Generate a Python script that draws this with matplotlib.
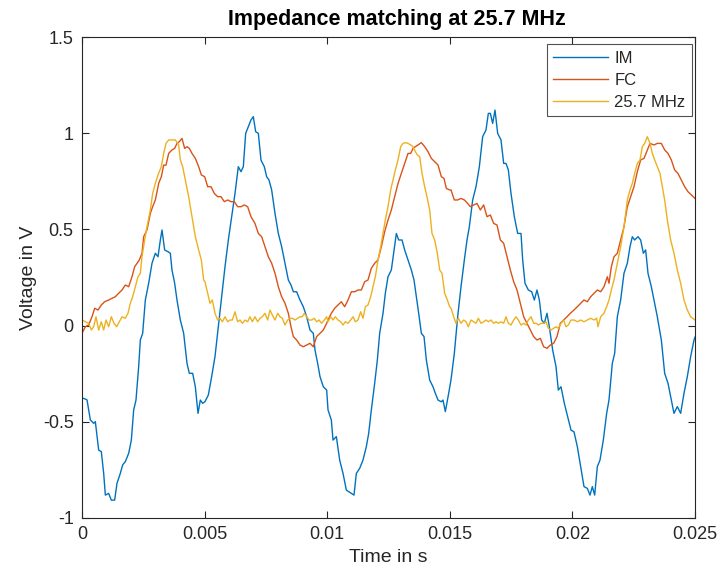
import matplotlib
matplotlib.use("Agg")
import matplotlib.pyplot as plt
import numpy as np

# ---- data, time in ms ----
im_t_ms = [0.000, 0.068, 0.204, 0.340, 0.476, 0.544, 0.680, 0.788, 0.884, 0.952, 1.088, 1.196, 1.332,
           1.427, 1.563, 1.659, 1.767, 1.903, 2.012, 2.107, 2.202, 2.311, 2.379, 2.474, 2.583, 2.719,
           2.855, 2.991, 3.100, 3.195, 3.263, 3.371, 3.507, 3.602, 3.670, 3.779, 3.874, 4.010, 4.146,
           4.282, 4.377, 4.513, 4.622, 4.731, 4.826, 4.921,
           5.016, 5.152, 5.288, 5.424, 5.560, 5.696, 5.832, 5.968, 6.104, 6.240, 6.375, 6.484, 6.579,
           6.675, 6.783, 6.892, 6.987, 7.082, 7.191, 7.300, 7.436, 7.531, 7.626, 7.735, 7.871, 8.007,
           8.143, 8.279, 8.415, 8.523, 8.619, 8.754, 8.890, 9.026, 9.162, 9.298, 9.434, 9.502, 9.611,
           9.706, 9.842, 9.978,
           10.033, 10.169, 10.237, 10.373, 10.509, 10.645, 10.781, 10.876, 10.985, 11.093, 11.189,
           11.324, 11.460, 11.596, 11.692, 11.800, 11.936, 12.045, 12.140, 12.276, 12.371, 12.480,
           12.616, 12.711, 12.820, 12.915, 13.051, 13.160, 13.296, 13.432, 13.540, 13.636, 13.731,
           13.840, 13.948, 14.044, 14.179, 14.315, 14.410, 14.519, 14.655, 14.723, 14.818, 14.954,
           15.049, 15.185, 15.321, 15.457, 15.593, 15.702, 15.797, 15.933, 16.069, 16.205, 16.340,
           16.476, 16.572, 16.653, 16.748, 16.843, 16.952, 17.088, 17.197, 17.292, 17.387, 17.496,
           17.632, 17.768, 17.904, 17.972, 18.067, 18.203, 18.339, 18.448, 18.556, 18.652, 18.747,
           18.855, 18.964, 19.059, 19.195, 19.331, 19.426, 19.535, 19.671, 19.807, 19.943,
           20.065, 20.201, 20.337, 20.473, 20.609, 20.718, 20.813, 20.908, 21.017, 21.125, 21.261,
           21.397, 21.492, 21.628, 21.724, 21.832, 21.968, 22.104, 22.240, 22.349, 22.444, 22.539,
           22.675, 22.784, 22.893, 22.988, 23.083, 23.219, 23.328, 23.463, 23.627, 23.763, 23.899,
           24.035, 24.143, 24.279, 24.415, 24.551, 24.687, 24.823, 24.959, 25.000]
im_v = [-0.380, -0.378, -0.386, -0.490, -0.508, -0.499, -0.647, -0.655, -0.768, -0.881, -0.872, -0.907, -0.907,
        -0.820, -0.768, -0.724, -0.707, -0.664, -0.595, -0.439, -0.387, -0.213, -0.075, -0.040, 0.133, 0.220,
        0.324, 0.376, 0.358, 0.445, 0.497, 0.393, 0.384, 0.376, 0.289, 0.220, 0.133, 0.029, -0.040,
        -0.196, -0.248, -0.248, -0.318, -0.456, -0.387, -0.404,
        -0.395, -0.361, -0.265, -0.161, -0.006, 0.150, 0.306, 0.445, 0.566, 0.687, 0.826, 0.800, 0.826,
        0.999, 1.034, 1.069, 1.086, 1.008, 0.999, 0.860, 0.826, 0.774, 0.757, 0.705, 0.583, 0.479,
        0.410, 0.324, 0.237, 0.211, 0.176, 0.176, 0.133, 0.098, 0.046, -0.023, -0.040, -0.127, -0.196,
        -0.265, -0.318, -0.335,
        -0.438, -0.491, -0.595, -0.577, -0.699, -0.768, -0.855, -0.863, -0.872, -0.881, -0.768,
        -0.742, -0.699, -0.629, -0.560, -0.438, -0.300, -0.179, -0.040, 0.064, 0.168, 0.254,
        0.289, 0.376, 0.479, 0.445, 0.445, 0.393, 0.341, 0.289, 0.237, 0.150, 0.064,
        -0.040, -0.057, -0.179, -0.283, -0.318, -0.352, -0.387, -0.396, -0.387, -0.447, -0.352,
        -0.282, -0.144, 0.046, 0.202, 0.341, 0.445, 0.514, 0.653, 0.722, 0.826, 0.982,
        1.017, 1.103, 1.103, 1.051, 1.120, 0.999, 0.965, 0.843, 0.843, 0.809, 0.687,
        0.566, 0.479, 0.479, 0.341, 0.220, 0.185, 0.176, 0.133, 0.185, 0.133, 0.029,
        0.012, 0.064, -0.006, -0.127, -0.213, -0.335, -0.318, -0.404, -0.474, -0.543,
        -0.552, -0.629, -0.733, -0.837, -0.846, -0.881, -0.837, -0.881, -0.733, -0.699, -0.595,
        -0.456, -0.387, -0.196, -0.144, 0.046, 0.133, 0.272, 0.324, 0.410, 0.462, 0.445,
        0.462, 0.445, 0.376, 0.393, 0.272, 0.202, 0.133, 0.046, -0.075, -0.248, -0.300,
        -0.387, -0.456, -0.421, -0.456, -0.352, -0.265, -0.161, -0.075, -0.060]

fc_t_ms = [0.000, 0.136, 0.272, 0.408, 0.517, 0.653, 0.788, 0.924, 1.088, 1.223, 1.359, 1.495, 1.631,
           1.767, 1.903, 2.039, 2.148, 2.243, 2.338, 2.447, 2.515, 2.651, 2.787, 2.882, 2.991, 3.127,
           3.235, 3.331, 3.426, 3.535, 3.670, 3.779, 3.874, 3.970, 4.078, 4.187, 4.282, 4.377, 4.486,
           4.622, 4.758, 4.867, 5.003,
           5.125, 5.261, 5.397, 5.533, 5.669, 5.804, 5.940, 6.076, 6.212, 6.348, 6.484, 6.620, 6.756,
           6.892, 7.055, 7.191, 7.327, 7.463, 7.599, 7.735, 7.871, 8.007, 8.143, 8.279, 8.415, 8.523,
           8.619, 8.754, 8.890, 9.026, 9.162, 9.298, 9.434, 9.570, 9.706, 9.842, 9.978,
           10.033, 10.169, 10.305, 10.441, 10.577, 10.713, 10.849, 10.985, 11.121, 11.256, 11.392,
           11.528, 11.664, 11.800, 11.936, 12.072, 12.208, 12.344, 12.480, 12.616, 12.752, 12.888,
           13.024, 13.160, 13.296, 13.404, 13.500, 13.595, 13.704, 13.839, 13.975, 14.111, 14.247,
           14.383, 14.519, 14.655, 14.764, 14.859, 14.995,
           15.049, 15.185, 15.321, 15.457, 15.593, 15.729, 15.837, 15.973, 16.109, 16.245, 16.381,
           16.517, 16.653, 16.789, 16.925, 17.061, 17.197, 17.333, 17.469, 17.605, 17.741, 17.877,
           18.013, 18.148, 18.284, 18.420, 18.556, 18.692, 18.828, 18.964, 19.100, 19.236, 19.372,
           19.508, 19.644, 19.780, 19.915,
           20.065, 20.201, 20.337, 20.473, 20.609, 20.745, 20.881, 21.017, 21.153, 21.289, 21.424,
           21.492, 21.588, 21.696, 21.832, 21.968, 22.104, 22.240, 22.376, 22.512, 22.648, 22.784,
           22.920, 23.029, 23.165, 23.328, 23.463, 23.627, 23.763, 23.899, 24.035, 24.170, 24.306,
           24.442, 24.578, 24.714, 24.850, 25.000]
fc_v = [-0.040, -0.006, 0.003, 0.046, 0.090, 0.081, 0.107, 0.124, 0.133, 0.142, 0.150, 0.168, 0.185,
        0.211, 0.202, 0.254, 0.306, 0.324, 0.341, 0.376, 0.462, 0.497, 0.583, 0.618, 0.653, 0.739,
        0.774, 0.834, 0.834, 0.895, 0.913, 0.921, 0.947, 0.956, 0.973, 0.921, 0.930, 0.921, 0.895,
        0.869, 0.826, 0.783, 0.774,
        0.722, 0.722, 0.687, 0.670, 0.670, 0.644, 0.653, 0.644, 0.644, 0.618, 0.618, 0.627, 0.618,
        0.566, 0.531, 0.479, 0.462, 0.410, 0.358, 0.324, 0.272, 0.202, 0.150, 0.116, 0.064, -0.006,
        -0.057, -0.075, -0.101, -0.110, -0.101, -0.092, -0.110, -0.057, -0.040, -0.023, 0.012,
        0.029, 0.064, 0.090, 0.107, 0.124, 0.098, 0.133, 0.176, 0.176, 0.185, 0.185,
        0.228, 0.237, 0.298, 0.324, 0.341, 0.410, 0.488, 0.549, 0.601, 0.670, 0.739,
        0.791, 0.843, 0.895, 0.895, 0.921, 0.930, 0.939, 0.951, 0.930, 0.904, 0.869,
        0.852, 0.835, 0.774, 0.765, 0.713, 0.705,
        0.705, 0.653, 0.653, 0.661, 0.653, 0.635, 0.618, 0.627, 0.635, 0.601, 0.627,
        0.566, 0.575, 0.531, 0.523, 0.445, 0.428, 0.358, 0.289, 0.228, 0.185, 0.116,
        0.046, 0.012, -0.023, -0.057, -0.075, -0.066, -0.110, -0.118, -0.101, -0.092, -0.057,
        0.012, 0.029, 0.046, 0.064,
        0.081, 0.098, 0.116, 0.133, 0.124, 0.150, 0.168, 0.185, 0.176, 0.202, 0.254,
        0.220, 0.306, 0.358, 0.376, 0.445, 0.514, 0.618, 0.670, 0.722, 0.800, 0.861,
        0.869, 0.904, 0.947, 0.939, 0.947, 0.947, 0.913, 0.895, 0.861, 0.809, 0.791,
        0.757, 0.722, 0.696, 0.679, 0.661]

ref_t_ms = [0.000, 0.136, 0.272, 0.381, 0.476, 0.571, 0.680, 0.788, 0.884, 0.979, 1.088, 1.196, 1.305,
            1.414, 1.523, 1.631, 1.767, 1.876, 1.971, 2.066, 2.175, 2.284, 2.379, 2.447, 2.556, 2.651,
            2.787, 2.882, 2.991, 3.100, 3.235, 3.331, 3.426, 3.535, 3.670, 3.806, 3.942, 4.010, 4.105,
            4.214, 4.350, 4.486, 4.622, 4.758, 4.867, 4.962,
            5.016, 5.125, 5.220, 5.315, 5.424, 5.533, 5.628, 5.723, 5.832, 5.940, 6.036, 6.131, 6.240,
            6.348, 6.443, 6.539, 6.647, 6.756, 6.851, 6.946, 7.055, 7.164, 7.259, 7.354, 7.463, 7.572,
            7.667, 7.762, 7.871, 7.980, 8.075, 8.170, 8.279, 8.387, 8.483, 8.578, 8.687, 8.795, 8.890,
            8.986, 9.067, 9.162, 9.257, 9.366, 9.475, 9.570, 9.665, 9.774, 9.883, 9.978,
            10.033, 10.142, 10.237, 10.332, 10.441, 10.550, 10.645, 10.740, 10.849, 10.957, 11.053,
            11.148, 11.256, 11.365, 11.460, 11.556, 11.664, 11.773, 11.868, 11.963, 12.072, 12.181,
            12.276, 12.371, 12.480, 12.589, 12.684, 12.779, 12.888, 12.997, 13.092, 13.187, 13.296,
            13.404, 13.500, 13.595, 13.676, 13.771, 13.867, 13.975, 14.084, 14.179, 14.274, 14.383,
            14.492, 14.587, 14.682, 14.791, 14.900, 14.995,
            15.049, 15.158, 15.253, 15.348, 15.457, 15.566, 15.661, 15.756, 15.865, 15.973, 16.069,
            16.164, 16.273, 16.381, 16.476, 16.572, 16.680, 16.789, 16.884, 16.979, 17.088, 17.197,
            17.292, 17.387, 17.496, 17.605, 17.700, 17.795, 17.904, 18.013, 18.108, 18.203, 18.312,
            18.420, 18.516, 18.611, 18.719, 18.828, 18.923, 19.019, 19.127, 19.236, 19.331, 19.426,
            19.535, 19.644, 19.739, 19.834, 19.943,
            20.065, 20.201, 20.337, 20.473, 20.609, 20.745, 20.881, 20.989, 21.044, 21.153, 21.289,
            21.397, 21.492, 21.588, 21.696, 21.832, 21.968, 22.104, 22.240, 22.349, 22.444, 22.539,
            22.648, 22.757, 22.852, 22.947, 23.056, 23.165, 23.260, 23.355, 23.463, 23.572, 23.668,
            23.763, 23.871, 24.007, 24.143, 24.279, 24.415, 24.551, 24.687, 24.823, 25.000]
ref_v = [0.029, 0.020, 0.012, -0.023, -0.006, 0.046, -0.023, 0.020, -0.023, 0.029, -0.006, 0.046, 0.012,
         -0.006, 0.020, 0.046, 0.038, 0.064, 0.116, 0.150, 0.202, 0.254, 0.272, 0.358, 0.445, 0.514,
         0.601, 0.687, 0.739, 0.783, 0.826, 0.895, 0.947, 0.965, 0.965, 0.965, 0.939, 0.861, 0.826,
         0.757, 0.670, 0.566, 0.462, 0.393, 0.341, 0.237,
         0.228, 0.168, 0.116, 0.133, 0.064, 0.029, 0.038, 0.020, 0.046, 0.020, 0.029, 0.029, 0.072,
         0.020, 0.029, 0.012, 0.029, 0.020, 0.046, 0.020, 0.046, 0.020, 0.038, 0.046, 0.064, 0.029,
         0.081, 0.055, 0.029, 0.064, 0.046, 0.038, 0.003, 0.029, 0.038, 0.038, 0.029, 0.038, 0.046,
         0.046, 0.064, 0.046, 0.029, 0.029, 0.038, 0.020, 0.029, 0.012, 0.029, 0.046,
         0.020, 0.046, 0.029, 0.046, 0.029, 0.020, 0.003, 0.020, 0.012, 0.029, 0.046,
         0.020, 0.029, 0.072, 0.038, 0.098, 0.107, 0.150, 0.202, 0.254, 0.341, 0.410,
         0.479, 0.549, 0.618, 0.705, 0.757, 0.809, 0.861, 0.930, 0.947, 0.951, 0.947,
         0.939, 0.930, 0.904, 0.887, 0.878, 0.791, 0.722, 0.661, 0.601, 0.479, 0.445,
         0.376, 0.289, 0.272, 0.168, 0.133, 0.098,
         0.090, 0.046, 0.012, 0.038, 0.012, 0.029, 0.020, -0.006, 0.029, 0.020, 0.012,
         0.038, 0.012, 0.020, 0.029, 0.020, 0.029, 0.012, 0.020, 0.012, 0.020, 0.012,
         0.046, 0.012, 0.003, 0.029, 0.046, 0.029, 0.003, 0.012, 0.003, 0.029, 0.046,
         0.012, 0.012, 0.003, 0.012, 0.012, 0.020, -0.014, -0.023, -0.014, -0.006, -0.014,
         0.012, 0.029, -0.006, 0.003, 0.029,
         0.029, 0.020, 0.029, 0.020, 0.029, 0.038, 0.029, 0.038, -0.006, 0.046, 0.064,
         0.098, 0.133, 0.185, 0.237, 0.324, 0.410, 0.514, 0.653, 0.705, 0.739, 0.791,
         0.843, 0.861, 0.930, 0.947, 0.982, 0.947, 0.895, 0.861, 0.826, 0.791, 0.722,
         0.653, 0.549, 0.445, 0.376, 0.289, 0.220, 0.133, 0.081, 0.046, 0.029]

series_labels = ["IM", "FC", "25.7 MHz"]
x_ticks = [0, 0.005, 0.01, 0.015, 0.02, 0.025]
x_tick_labels = ["0", "0.005", "0.01", "0.015", "0.02", "0.025"]
y_ticks = [-1, -0.5, 0, 0.5, 1, 1.5]
y_tick_labels = ["-1", "-0.5", "0", "0.5", "1", "1.5"]

# ---- style ----
plt.rcParams['font.family'] = ['Liberation Sans', 'DejaVu Sans']
axcol = '#262626'

fig = plt.figure(figsize=(7.2, 5.76), dpi=100)
ax = fig.add_axes([82/720, 1-518/576, (695-82)/720, (518-37)/576])

ax.plot(np.array(im_t_ms) / 1000, im_v, color='#0072BD', lw=1.0, label=series_labels[0])
ax.plot(np.array(fc_t_ms) / 1000, fc_v, color='#D95319', lw=1.0, label=series_labels[1])
ax.plot(np.array(ref_t_ms) / 1000, ref_v, color='#EDB120', lw=1.0, label=series_labels[2])

ax.set_xlim(0, 0.025)
ax.set_ylim(-1, 1.5)
ax.set_xticks(x_ticks)
ax.set_xticklabels(x_tick_labels)
ax.set_yticks(y_ticks)
ax.set_yticklabels(y_tick_labels)
ax.tick_params(direction='in', length=5, width=0.8, colors=axcol, labelsize=13,
               top=True, right=True, pad=6)
for s in ax.spines.values():
    s.set_color(axcol)
    s.set_linewidth(0.8)

ax.set_xlabel("Time in s", fontsize=14, color=axcol, labelpad=4)
ax.set_ylabel("Voltage in V", fontsize=14, color=axcol, labelpad=4)
title = ax.set_title("Impedance matching at 25.7 MHz", fontsize=15.5, fontweight='bold',
                     color='black', pad=9)
title.set_x(0.513)

leg = ax.legend(loc='upper right', bbox_to_anchor=(0.9951, 0.9854), fontsize=12,
                handlelength=3.3, frameon=True, fancybox=False, borderaxespad=0.0,
                labelspacing=0.42, handletextpad=0.35, borderpad=0.4)
leg.get_frame().set_edgecolor(axcol)
leg.get_frame().set_linewidth(0.8)
for t in leg.get_texts():
    t.set_color(axcol)

fig.savefig("out.png", dpi=100)
